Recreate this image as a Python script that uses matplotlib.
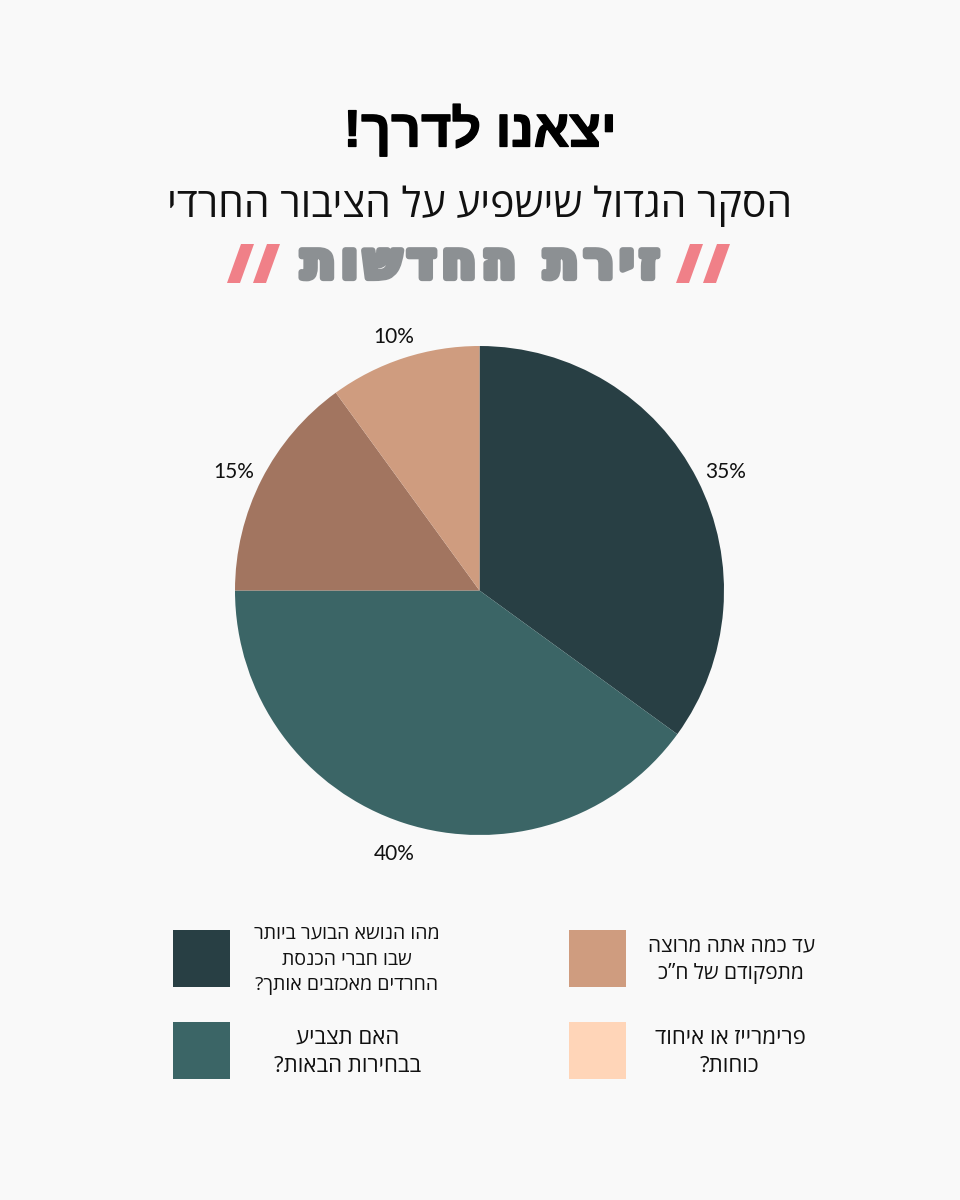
import matplotlib
matplotlib.use("Agg")
import matplotlib.pyplot as plt
import matplotlib.patheffects as pe
from matplotlib.patches import Rectangle, Polygon

# no bidi in matplotlib, so hebrew strings get reversed before drawing
def heb(s):
    return s[::-1]

title = "יצאנו לדרך!"
subtitle = "הסקר הגדול שישפיע על הציבור החרדי"
brand = "זירת החדשות"

shares = [35, 40, 15, 10]
share_labels = ["35%", "40%", "15%", "10%"]
slice_colors = ["#283F44", "#3B6566", "#A27560", "#CF9C7F"]

legend_lines = [
    ["מהו הנושא הבוער ביותר", "שבו חברי הכנסת", "החרדים מאכזבים אותך?"],
    ["האם תצביע", "בבחירות הבאות?"],
    ["עד כמה אתה מרוצה", "מתפקודם של ח”כ"],
    ["פרימרייז או איחוד", "כוחות?"],
]
legend_colors = ["#283F44", "#3B6566", "#CF9C7F", "#FFD5B8"]

bg = "#F9F9F9"
font = "Open Sans"

fig = plt.figure(figsize=(9.6, 12), dpi=100, facecolor=bg)

# full-figure pixel axes for the text and legend
ax = fig.add_axes([0, 0, 1, 1])
ax.set_xlim(0, 960)
ax.set_ylim(1200, 0)
ax.axis("off")

ax.text(480, 131, heb(title), ha="center", va="center", fontsize=37.5,
        fontweight="bold", family="Liberation Sans", color="black",
        path_effects=[pe.withStroke(linewidth=1, foreground="black")])
ax.text(480, 206, heb(subtitle), ha="center", va="center", fontsize=29.5,
        family=font, color="#111111")
# hair spaces to stretch the logo wordmark
ax.text(480, 264, "\u200a".join(heb(brand)), ha="center", va="center", fontsize=36.5,
        fontweight="bold", family="DejaVu Sans", color="#8C9093",
        path_effects=[pe.withStroke(linewidth=4.5, foreground="#8C9093")])

# logo slashes
for x0 in (227, 253, 676, 703):
    ax.add_patch(Polygon([(x0, 283), (x0 + 13, 283), (x0 + 27, 244), (x0 + 14, 244)],
                         color="#F08088", lw=0))

# pie
pie_ax = fig.add_axes([235 / 960, 1 - 835 / 1200, 489 / 960, 489 / 1200])
wedges, labels = pie_ax.pie(shares, colors=slice_colors, startangle=90, counterclock=False,
                            radius=1, labels=share_labels, labeldistance=1.11,
                            textprops={"fontsize": 15, "family": "Lato", "color": "#111111"})
for t in labels:
    t.set_ha("center")
    t.set_va("center")
    x, y = t.get_position()
    t.set_position((x * 1.018, y - 0.02))
pie_ax.set_xlim(-1, 1)
pie_ax.set_ylim(-1, 1)

# legend
boxes = [(173, 930), (173, 1022), (569, 930), (569, 1022)]
text_x = [347, 348, 731, 730]
sizes = [14, 16, 15, 16]
pitches = [26, 28, 28, 28]
mid_y = [960, 1052, 960, 1052]
for i, lines in enumerate(legend_lines):
    bx, by = boxes[i]
    ax.add_patch(Rectangle((bx, by), 57, 57, color=legend_colors[i], lw=0))
    top = mid_y[i] - pitches[i] * (len(lines) - 1) / 2
    for j, line in enumerate(lines):
        ax.text(text_x[i], top + j * pitches[i], heb(line), ha="center", va="center",
                fontsize=sizes[i], family=font, color="#111111")

fig.savefig("out.png", dpi=100, facecolor=bg)
